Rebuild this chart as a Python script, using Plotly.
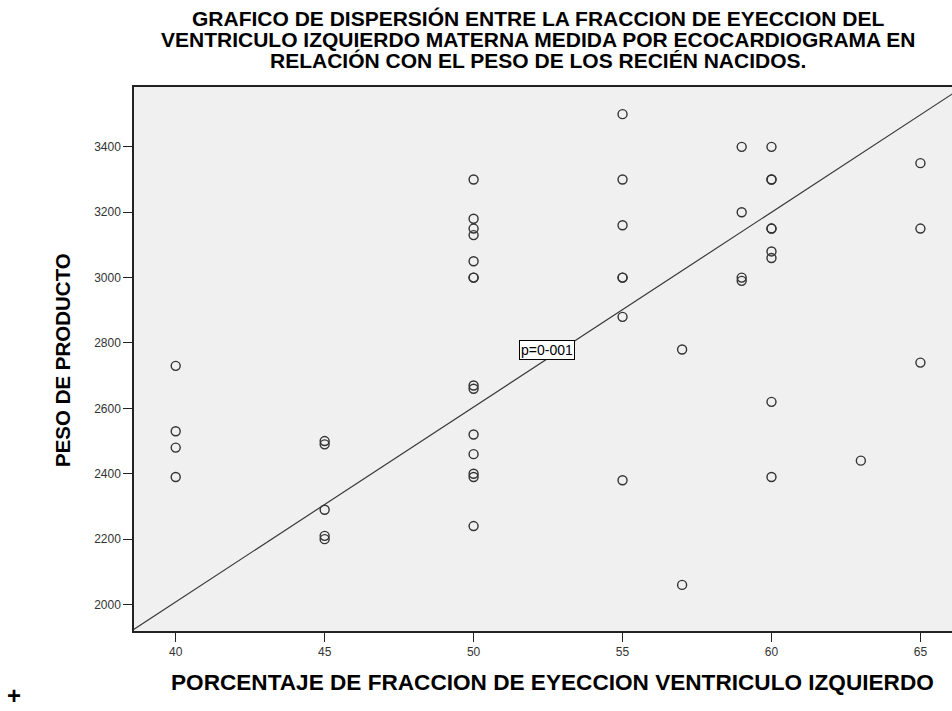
import plotly.graph_objects as go

# Fracción de eyección del ventrículo izquierdo materna (%) y peso del recién nacido (g)
fevi = [40, 40, 40, 40,
        45, 45, 45, 45, 45,
        50, 50, 50, 50, 50, 50, 50, 50, 50, 50, 50, 50, 50, 50,
        55, 55, 55, 55, 55, 55, 55,
        57, 57,
        59, 59, 59, 59,
        60, 60, 60, 60, 60, 60, 60, 60, 60,
        63,
        65, 65, 65]
peso = [2730, 2530, 2480, 2390,
        2500, 2490, 2290, 2210, 2200,
        3300, 3180, 3150, 3130, 3050, 3000, 3000, 2670, 2660, 2520, 2460, 2400, 2390, 2240,
        3500, 3300, 3160, 3000, 3000, 2880, 2380,
        2780, 2060,
        3400, 3200, 3000, 2990,
        3400, 3300, 3300, 3150, 3150, 3080, 3060, 2620, 2390,
        2440,
        3350, 3150, 2740]

# Recta de ajuste lineal
pendiente = 59.6
intercepto = -376
x_range = [38.6, 66.06]
y_range = [1919, 3583]
fit_x = [x_range[0] - 1, x_range[1] + 1]
fit_y = [intercepto + pendiente * v for v in fit_x]

x_ticks = [40, 45, 50, 55, 60, 65]
y_ticks = [2000, 2200, 2400, 2600, 2800, 3000, 3200, 3400]

titulo = [
    "GRAFICO DE DISPERSIÓN ENTRE LA FRACCION DE EYECCION DEL",
    "VENTRICULO IZQUIERDO MATERNA MEDIDA POR ECOCARDIOGRAMA EN",
    "RELACIÓN CON EL PESO DE LOS RECIÉN NACIDOS.",
]
etiqueta_p = "p=0-001"
etiqueta_pos = (52.48, 2778)

FONT = "Liberation Sans, Arial, sans-serif"

fig = go.Figure()
fig.add_trace(go.Scatter(
    x=fit_x, y=fit_y, mode="lines",
    line=dict(color="#3a3a3a", width=1.2),
    hoverinfo="skip", showlegend=False,
))
fig.add_trace(go.Scatter(
    x=fevi, y=peso, mode="markers",
    marker=dict(symbol="circle-open", size=9, color="#333333",
                line=dict(width=1.4, color="#333333")),
    showlegend=False,
))

W, H = 952, 711
L, R, T, B = 134, 0, 87, 80
pw, ph = W - L - R, H - T - B


def px(xp):
    return (xp - L) / pw


def py(yp):
    return (H - B - yp) / ph


annotations = []
for linea, ypos in zip(titulo, [18.5, 39.5, 61]):
    annotations.append(dict(
        text="<b>%s</b>" % linea, x=px(538), y=py(ypos),
        xref="paper", yref="paper", showarrow=False,
        xanchor="center", yanchor="middle",
        font=dict(family=FONT, size=21, color="black"),
    ))
annotations.append(dict(
    text="<b>PESO DE PRODUCTO</b>", x=px(62), y=py(360),
    xref="paper", yref="paper", showarrow=False, textangle=-90,
    xanchor="center", yanchor="middle",
    font=dict(family=FONT, size=20.5, color="black"),
))
annotations.append(dict(
    text="<b>PORCENTAJE DE FRACCION DE EYECCION VENTRICULO IZQUIERDO</b>",
    x=px(552), y=py(682), xref="paper", yref="paper", showarrow=False,
    xanchor="center", yanchor="middle",
    font=dict(family=FONT, size=22.6, color="black"),
))
annotations.append(dict(
    text=etiqueta_p, x=etiqueta_pos[0], y=etiqueta_pos[1],
    xref="x", yref="y", showarrow=False,
    xanchor="center", yanchor="middle",
    bgcolor="white", bordercolor="black", borderwidth=1, borderpad=1,
    font=dict(family=FONT, size=14, color="black"),
))
annotations.append(dict(
    text="<b>+</b>", x=px(14), y=py(695), xref="paper", yref="paper",
    showarrow=False, xanchor="center", yanchor="middle",
    font=dict(family=FONT, size=24, color="black"),
))

fig.update_layout(
    width=W, height=H,
    margin=dict(l=L, r=R, t=T, b=B, pad=0),
    paper_bgcolor="white",
    plot_bgcolor="#f0f0f0",
    annotations=annotations,
    font=dict(family=FONT),
)
fig.update_xaxes(
    range=x_range, tickvals=x_ticks, ticktext=[str(v) for v in x_ticks],
    showgrid=False, zeroline=False,
    showline=True, linecolor="#222222", linewidth=1.5, mirror=True,
    ticks="outside", ticklen=9, tickwidth=1.2, tickcolor="#222222",
    tickfont=dict(family=FONT, size=12, color="#333333"),
)
fig.update_yaxes(
    range=y_range, tickvals=y_ticks, ticktext=[str(v) for v in y_ticks],
    showgrid=False, zeroline=False,
    showline=True, linecolor="#222222", linewidth=1.5,
    ticks="outside", ticklen=9, tickwidth=1.2, tickcolor="#222222",
    tickfont=dict(family=FONT, size=12, color="#333333"),
)

fig.write_html("out.html")
